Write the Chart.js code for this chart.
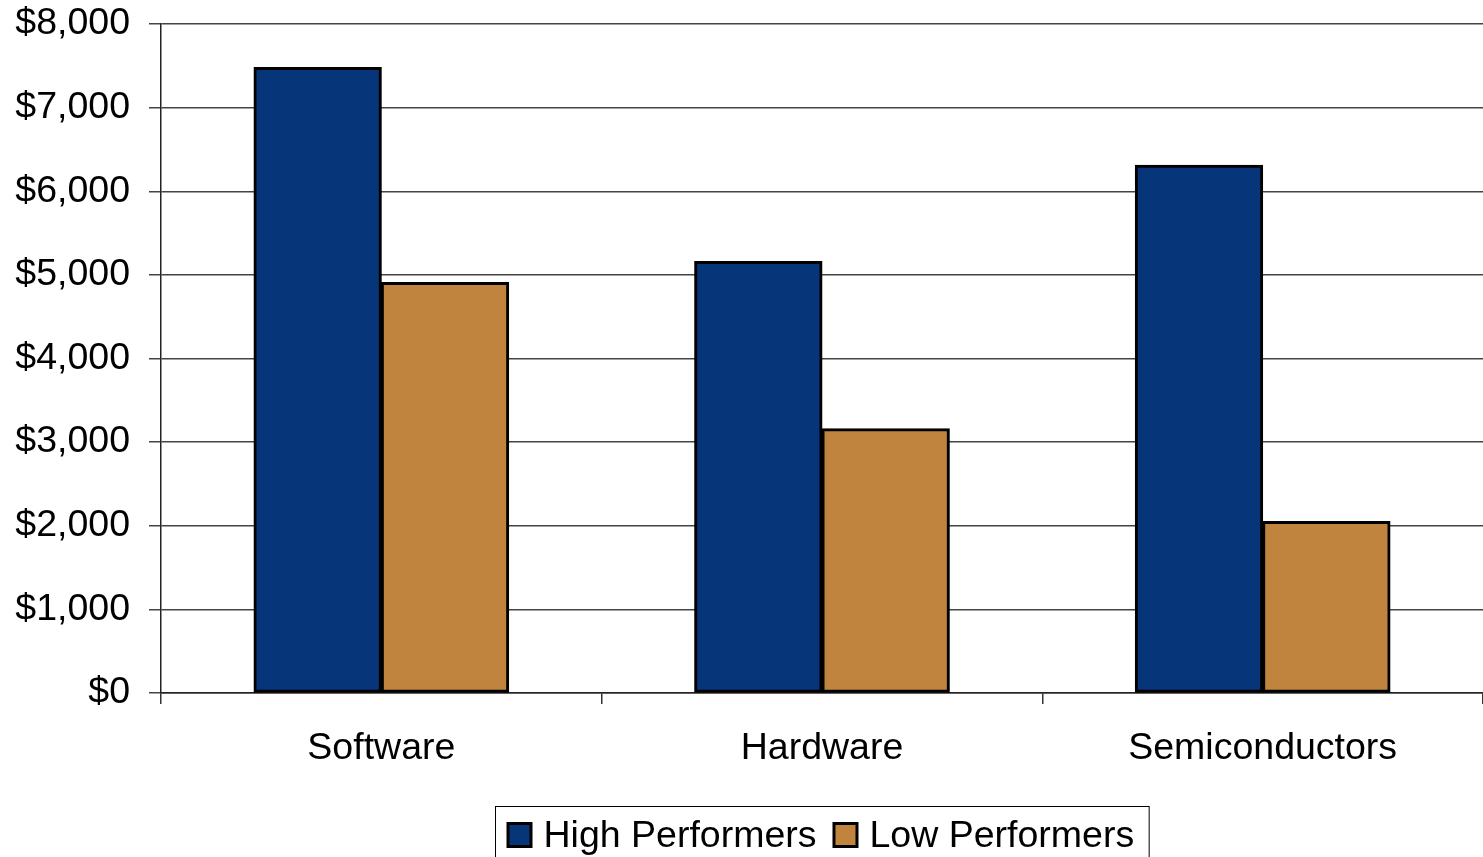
<!DOCTYPE html>
<html>
<head>
<meta charset="utf-8">
<title>High vs Low Performers</title>
<script src="https://cdn.jsdelivr.net/npm/chart.js@4.4.1/dist/chart.umd.min.js"></script>
<style>
  html, body { margin: 0; padding: 0; background: #ffffff; overflow: hidden; }
  #wrap { position: relative; width: 1483px; height: 857px; }
</style>
</head>
<body>
<div id="wrap"><canvas id="chart"></canvas></div>
<script>
// Data
const categories = ['Software', 'Hardware', 'Semiconductors'];
const highPerformers = [7480, 5160, 6310];
const lowPerformers = [4910, 3160, 2050];
const yTicks = [0, 1000, 2000, 3000, 4000, 5000, 6000, 7000, 8000];

const FONT = '"Liberation Sans", Arial, sans-serif';
const FONT_SIZE = 37.5;
const BLUE = '#06357a';
const BROWN = '#c0843e';

const fmtDollar = v => '$' + Number(v).toLocaleString('en-US');

// Boxed legend drawn under the category labels
const boxedLegend = {
  id: 'boxedLegend',
  afterDraw(chart) {
    const ctx = chart.ctx;
    const area = chart.chartArea;
    ctx.save();
    ctx.font = FONT_SIZE + 'px ' + FONT;
    const sq = 26, gapText = 11, gapItem = 16, padL = 11, padR = 15;
    const items = chart.data.datasets.map(ds => ({
      label: ds.label, color: ds.backgroundColor,
      w: sq + gapText + ctx.measureText(ds.label).width
    }));
    const inner = items.reduce((s, it) => s + it.w, 0) + gapItem * (items.length - 1);
    const boxW = inner + padL + padR;
    const cx = (area.left + area.right) / 2;
    const boxL = Math.round(cx - boxW / 2) + 0.5;
    const boxT = 806.5;
    ctx.strokeStyle = '#000000';
    ctx.lineWidth = 1;
    ctx.strokeRect(boxL, boxT, boxW, 80);
    let x = boxL + padL;
    const sqTop = 822;
    items.forEach(it => {
      ctx.fillStyle = '#000000';
      ctx.fillRect(x, sqTop, sq, sq);
      ctx.fillStyle = it.color;
      ctx.fillRect(x + 3, sqTop + 3, sq - 6, sq - 6);
      ctx.fillStyle = '#000000';
      ctx.textBaseline = 'alphabetic';
      ctx.textAlign = 'left';
      ctx.fillText(it.label, x + sq + gapText, 847);
      x += it.w + gapItem;
    });
    ctx.restore();
  }
};

const barStyle = {
  borderColor: '#000000',
  borderWidth: 3,
  borderSkipped: false,
  inflateAmount: 0.5,
  categoryPercentage: 0.578,
  barPercentage: 1.0
};

new Chart(document.getElementById('chart'), {
  type: 'bar',
  data: {
    labels: categories,
    datasets: [
      Object.assign({ label: 'High Performers', data: highPerformers, backgroundColor: BLUE }, barStyle),
      Object.assign({ label: 'Low Performers', data: lowPerformers, backgroundColor: BROWN }, barStyle)
    ]
  },
  options: {
    responsive: true,
    maintainAspectRatio: false,
    animation: false,
    devicePixelRatio: 1,
    layout: { padding: { top: 24, left: 0, right: 0, bottom: 0 } },
    plugins: {
      legend: { display: false },
      tooltip: { enabled: false }
    },
    scales: {
      x: {
        offset: true,
        afterFit(scale) {
          scale.height = 164;
          scale.paddingLeft = 0;
          scale.paddingRight = 0;
        },
        grid: {
          drawOnChartArea: false,
          drawTicks: true,
          tickLength: 11,
          color: '#333333',
          lineWidth: 1.5
        },
        border: { display: true, color: '#222222', width: 1.5 },
        ticks: {
          color: '#000000',
          padding: 22,
          maxRotation: 0,
          font: { family: FONT, size: FONT_SIZE }
        }
      },
      y: {
        min: 0,
        max: 8000,
        afterFit(scale) {
          scale.width = 161;
          scale.paddingTop = 0;
          scale.paddingBottom = 0;
        },
        afterBuildTicks(scale) { scale.ticks = yTicks.map(v => ({ value: v })); },
        grid: {
          drawTicks: true,
          tickLength: 12,
          color: '#444444',
          lineWidth: 1.5
        },
        border: { display: true, color: '#222222', width: 1.5 },
        ticks: {
          color: '#000000',
          padding: 19,
          callback: v => fmtDollar(v),
          font: { family: FONT, size: FONT_SIZE }
        }
      }
    }
  },
  plugins: [boxedLegend]
});
</script>
</body>
</html>
